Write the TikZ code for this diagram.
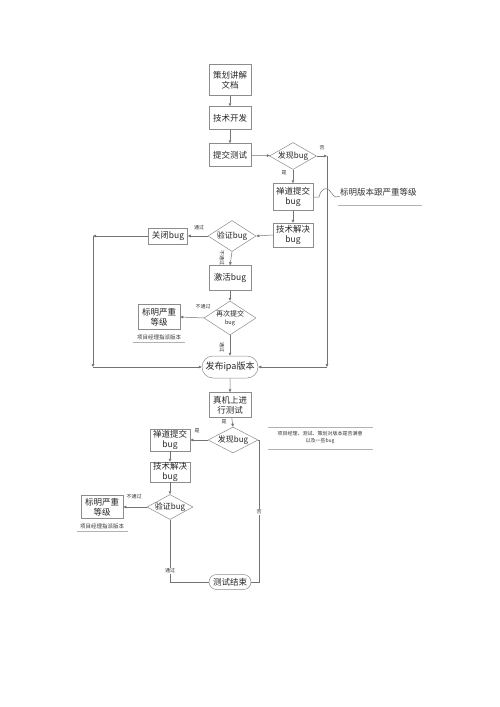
\documentclass[tikz,border=0pt]{standalone}
\usepackage{fontspec}
\setmainfont{Noto Sans CJK SC}
\usetikzlibrary{shapes.geometric,shapes.misc,arrows.meta}
\tikzset{
  base/.style={draw=black!45, line width=0.5pt, fill=white, align=center, inner sep=0pt, text=black!85},
  pbox/.style={base, rectangle, font=\fontsize{8.5}{10}\selectfont},
  dia/.style={base, diamond, font=\fontsize{8}{9}\selectfont, inner xsep=-12pt, inner ysep=-8pt},
  term/.style={base, rounded rectangle, font=\fontsize{9}{10}\selectfont},
  lab/.style={font=\fontsize{5}{6}\selectfont, text=black!80, inner sep=0.5pt},
  note/.style={font=\fontsize{5.5}{7}\selectfont, text=black!80, align=center, inner sep=0pt},
  con/.style={draw=black!55, line width=0.5pt},
  arr/.style={con, -{Triangle[length=3pt,width=2.6pt]}},
  nline/.style={draw=black!30, line width=0.5pt},
}
\begin{document}
\begin{tikzpicture}[x=1pt,y=-1pt]
\useasboundingbox (0,0) rectangle (500,707);
% nodes
\node[pbox, minimum width=42, minimum height=31] (doc) at (230,80) {策划讲解\\文档};
\node[pbox, minimum width=42, minimum height=23] (dev) at (230,118) {技术开发};
\node[pbox, minimum width=42, minimum height=23] (sub) at (230,155) {提交测试};
\node[dia, minimum width=47, minimum height=27] (f1) at (293,156) {发现bug};
\node[pbox, minimum width=40, minimum height=27] (zd1) at (293,197) {禅道提交\\bug};
\node[pbox, minimum width=40, minimum height=24] (js1) at (293,235) {技术解决\\bug};
\node[dia, minimum width=48, minimum height=31] (yz1) at (232,236) {验证bug};
\node[pbox, minimum width=39, minimum height=16] (gb) at (168,236) {关闭bug};
\node[pbox, minimum width=42, minimum height=25] (jh) at (230,278) {激活bug};
\node[dia, minimum width=52, minimum height=34, font=\fontsize{7}{8}\selectfont] (zc) at (230,318) {再次提交\\{\fontsize{5.5}{6}\selectfont bug}};
\node[pbox, minimum width=42, minimum height=25] (bm1) at (159,317) {标明严重\\等级};
\node[note] (n1) at (159,337) {项目经理指派版本};
\node[term, minimum width=56, minimum height=22] (ipa) at (230,367) {发布ipa版本};
\node[pbox, minimum width=42, minimum height=25] (zj) at (230,405) {真机上进\\行测试};
\node[dia, minimum width=50, minimum height=26] (f2) at (233,440) {发现bug};
\node[pbox, minimum width=40, minimum height=22] (zd2) at (170,440) {禅道提交\\bug};
\node[pbox, minimum width=40, minimum height=20] (js2) at (170,472) {技术解决\\bug};
\node[dia, minimum width=46, minimum height=25] (yz2) at (170,507) {验证bug};
\node[pbox, minimum width=42, minimum height=23] (bm2) at (102,507) {标明严重\\等级};
\node[note] (n2) at (102,526) {项目经理指派版本};
\node[term, minimum width=42, minimum height=15, font=\fontsize{8.5}{10}\selectfont] (end) at (230,582) {测试结束};
\node[note, font=\fontsize{5}{7}\selectfont] (n3) at (320,437) {项目经理、测试、策划对版本是否满意\\以及一些bug};
\node[note, font=\fontsize{8.5}{10}\selectfont, anchor=west] (n4) at (340,192) {标明版本跟严重等级};
% note lines
\draw[nline] (133,342) -- (185,342);
\draw[nline] (77,531) -- (128,531);
\draw[nline] (268,427) -- (373,427);
\draw[nline] (268,449) -- (373,449);
\draw[nline] (338,205) -- (422,205);
% coordinates
\coordinate (r1) at (327,156);
\coordinate (r2) at (327,367);
\coordinate (l1) at (93,236);
\coordinate (l2) at (93,367);
\coordinate (b1) at (170,582);
\coordinate (b2) at (259,440);
\coordinate (b3) at (259,582);
\coordinate (h1) at (319,197);
\coordinate (h2) at (336,197);
% connectors
\draw[arr] (doc) -- (dev);
\draw[arr] (dev) -- (sub);
\draw[arr] (sub) -- (f1);
\draw[arr] (f1.east) -- (r1);
\draw[arr] (r1) -- (r2);
\draw[arr] (r2) -- (ipa.east);
\draw[arr] (f1.south) -- (zd1.north);
\draw[arr] (zd1) -- (js1);
\draw[arr] (js1.west) -- (yz1.east);
\draw[arr] (yz1.west) -- (gb.east);
\draw[arr] (gb.west) -- (l1);
\draw[arr] (l1) -- (l2);
\draw[arr] (l2) -- (ipa.west);
\draw[arr] (yz1.south) -- (jh.north);
\draw[arr] (jh) -- (zc.north);
\draw[arr] (zc.west) -- (bm1.east);
\draw[arr] (zc.south) -- (ipa.north);
\draw[arr] (ipa) -- (zj);
\draw[arr] (zj) -- (f2.north);
\draw[arr] (f2.west) -- (zd2.east);
\draw[arr] (zd2) -- (js2);
\draw[arr] (js2) -- (yz2.north);
\draw[arr] (yz2.west) -- (bm2.east);
\draw[con] (yz2.south) -- (b1) -- (end.west);
\draw[con] (f2.east) -- (b2) -- (b3) -- (end.east);
\draw[con] (zd1.east) -- (h1) .. controls (321,189) and (325,188) .. (327,189) .. controls (330,189) and (333,197) .. (h2) -- (n4.south west);
% labels
\node[lab] at (322,148) {否};
\node[lab] at (284,173) {是};
\node[lab] at (199,228) {通过};
\node[lab, rotate=-90] at (222,258) {不通过};
\node[lab] at (203,307) {不通过};
\node[lab, rotate=-90] at (222,347) {通过};
\node[lab] at (224,422) {是};
\node[lab] at (197,431) {是};
\node[lab] at (134,497) {不通过};
\node[lab, fill=white] at (170,571) {通过};
\node[lab, fill=white] at (259,512) {否};
\end{tikzpicture}
\end{document}
